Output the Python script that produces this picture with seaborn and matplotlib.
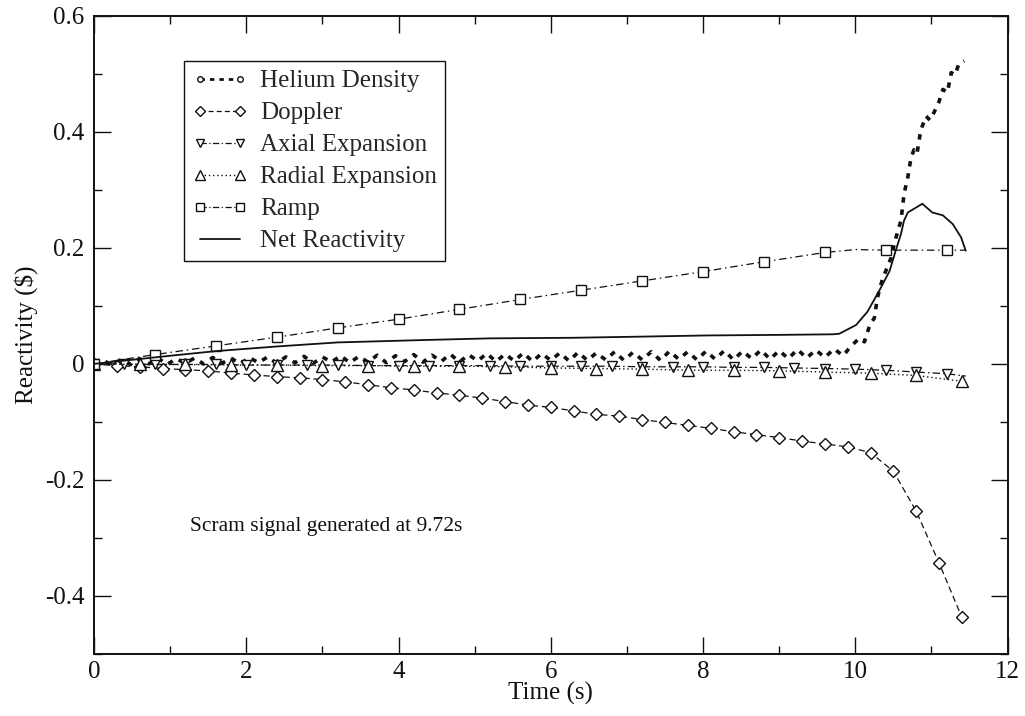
import numpy as np
import matplotlib
matplotlib.use("Agg")
import matplotlib.pyplot as plt
from matplotlib.lines import Line2D
from matplotlib.ticker import MultipleLocator, FuncFormatter
import seaborn as sns

# ---- data: reactivity components ($) versus time (s) ----
# Helium density: oscillating signal sampled every 0.12 s up to 9.84 s, then the excursion
helium_t_base = np.round(np.arange(0.0, 9.841, 0.12), 2)
helium_v_base = [
    0.000, 0.006, -0.002, 0.008, -0.001, 0.009, 0.000, 0.010, -0.001, 0.009,
    0.001, 0.010, 0.000, 0.011, 0.001, 0.010, 0.000, 0.011, 0.002, 0.012,
    0.001, 0.012, 0.002, 0.013, 0.001, 0.012, 0.003, 0.014, 0.002, 0.013,
    0.003, 0.015, 0.002, 0.014, 0.004, 0.016, 0.003, 0.015, 0.004, 0.017,
    0.003, 0.016, 0.005, 0.018, 0.004, 0.017, 0.005, 0.019, 0.004, 0.018,
    0.006, 0.019, 0.005, 0.020, 0.006, 0.019, 0.007, 0.021, 0.006, 0.020,
    0.007, 0.021, 0.006, 0.022, 0.008, 0.021, 0.007, 0.022, 0.008, 0.023,
    0.007, 0.022, 0.009, 0.024, 0.008, 0.023, 0.009, 0.025, 0.010, 0.024,
    0.011, 0.026, 0.014,
]
helium_t_rise = [9.94, 10.05, 10.12, 10.19, 10.25, 10.29, 10.36, 10.42, 10.47, 10.51,
                 10.56, 10.60, 10.62, 10.64, 10.69, 10.73, 10.77, 10.81, 10.86, 10.93,
                 10.98, 11.04, 11.10, 11.15, 11.21, 11.26, 11.31, 11.36, 11.43]
helium_v_rise = [0.030, 0.044, 0.038, 0.067, 0.079, 0.114, 0.148, 0.166, 0.183, 0.206,
                 0.230, 0.247, 0.270, 0.293, 0.322, 0.354, 0.369, 0.362, 0.403, 0.427,
                 0.420, 0.435, 0.452, 0.473, 0.468, 0.502, 0.498, 0.517, 0.522]

# Doppler: sampled every 0.3 s
doppler_t = np.round(np.arange(0.0, 11.41, 0.3), 2)
doppler_v = [0.000, -0.003, -0.005, -0.008, -0.010, -0.012, -0.016, -0.019, -0.022, -0.024,
             -0.027, -0.031, -0.036, -0.041, -0.045, -0.050, -0.054, -0.059, -0.065, -0.071,
             -0.075, -0.081, -0.087, -0.090, -0.096, -0.101, -0.106, -0.111, -0.117, -0.122,
             -0.127, -0.133, -0.138, -0.143, -0.153, -0.185, -0.254, -0.343, -0.437]

# Axial expansion: sampled every 0.4 s, plus end point
axial_t = list(np.round(np.arange(0.0, 11.21, 0.4), 2)) + [11.45]
axial_v = [0.000, 0.000, -0.001, -0.001, -0.001, -0.002, -0.002, -0.002, -0.002, -0.003,
           -0.003, -0.003, -0.003, -0.003, -0.004, -0.004, -0.004, -0.004, -0.005, -0.005,
           -0.005, -0.006, -0.006, -0.007, -0.008, -0.009, -0.011, -0.014, -0.017, -0.021]

# Radial expansion: sampled every 0.6 s
radial_t = np.round(np.arange(0.0, 11.41, 0.6), 2)
radial_v = [0.000, -0.001, -0.001, -0.002, -0.002, -0.003, -0.003, -0.004, -0.004, -0.005,
            -0.007, -0.008, -0.009, -0.011, -0.011, -0.012, -0.014, -0.016, -0.020, -0.030]

# Ramp insertion
ramp_t = [0.0, 0.8, 1.6, 2.4, 3.2, 4.0, 4.8, 5.6, 6.4, 7.2, 8.0, 8.8, 9.6,
          10.0, 10.4, 11.2, 11.45]
ramp_v = [0.000, 0.016, 0.031, 0.046, 0.062, 0.077, 0.094, 0.111, 0.127, 0.143,
          0.159, 0.176, 0.192, 0.197, 0.196, 0.196, 0.196]
ramp_marks = list(range(13)) + [14, 15]

# Net reactivity
net_t = [0.0, 0.5, 1.0, 1.6, 2.4, 3.2, 4.3, 5.2, 6.3, 7.2, 8.05, 9.0, 9.71, 9.79,
         10.01, 10.16, 10.31, 10.45, 10.53, 10.60, 10.64, 10.69, 10.78, 10.88,
         10.95, 11.01, 11.15, 11.28, 11.39, 11.45]
net_v = [0.000, 0.007, 0.014, 0.022, 0.030, 0.037, 0.041, 0.044, 0.045, 0.047,
         0.049, 0.050, 0.051, 0.052, 0.067, 0.090, 0.125, 0.160, 0.195, 0.224,
         0.247, 0.261, 0.268, 0.276, 0.268, 0.261, 0.256, 0.241, 0.218, 0.195]

labels = ["Helium Density", "Doppler", "Axial Expansion", "Radial Expansion",
          "Ramp", "Net Reactivity"]

# ---- styling ----
sns.set_style("ticks")
plt.rcParams["font.family"] = ["Liberation Serif", "DejaVu Serif"]
plt.rcParams["axes.unicode_minus"] = False
plt.rcParams["mathtext.default"] = "regular"

fig = plt.figure(figsize=(10.25, 7.16), dpi=100)
ax = fig.add_axes([0.0917, 0.0866, 0.8913, 0.8914])

ink = "#111111"
mk = dict(markerfacecolor="white", markeredgecolor=ink, markeredgewidth=1.0)

helium_t = list(helium_t_base) + helium_t_rise
helium_v = helium_v_base + helium_v_rise
sns.lineplot(x=helium_t, y=helium_v, ax=ax, sort=False, estimator=None,
             color=ink, linewidth=2.6, linestyle=(0, (1.5, 1.9)))

sns.lineplot(x=doppler_t, y=doppler_v, ax=ax, sort=False, estimator=None,
             color=ink, linewidth=0.9, linestyle=(0, (5, 3)),
             marker="D", markersize=6.5, **mk)

sns.lineplot(x=axial_t, y=axial_v, ax=ax, sort=False, estimator=None,
             color=ink, linewidth=0.9, linestyle=(0, (6, 2.5, 1.2, 2.5)),
             marker="v", markersize=6.5, markevery=list(range(len(axial_t) - 1)), **mk)

sns.lineplot(x=radial_t, y=radial_v, ax=ax, sort=False, estimator=None,
             color=ink, linewidth=1.0, linestyle=(0, (1, 2)),
             marker="^", markersize=8.5, **mk)

sns.lineplot(x=ramp_t, y=ramp_v, ax=ax, sort=False, estimator=None,
             color=ink, linewidth=0.9, linestyle=(0, (6, 3, 1.2, 3)),
             marker="s", markersize=7.5, markevery=ramp_marks, **mk)

sns.lineplot(x=net_t, y=net_v, ax=ax, sort=False, estimator=None,
             color=ink, linewidth=1.3, linestyle="-")

# ---- axes ----
ax.set_xlim(0, 12)
ax.set_ylim(-0.5, 0.6)
ax.xaxis.set_major_locator(MultipleLocator(2))
ax.xaxis.set_minor_locator(MultipleLocator(1))
ax.yaxis.set_major_locator(MultipleLocator(0.2))
ax.yaxis.set_minor_locator(MultipleLocator(0.1))
fmt = FuncFormatter(lambda v, p: f"{v:g}" if abs(v) > 1e-9 else "0")
ax.xaxis.set_major_formatter(fmt)
ax.yaxis.set_major_formatter(fmt)
ax.tick_params(which="both", direction="in", top=True, right=True, colors=ink,
               labelsize=18, width=1.0)
ax.tick_params(which="major", length=12)
ax.tick_params(which="minor", length=6)
ax.tick_params(axis="x", pad=5)
ax.tick_params(axis="y", pad=7)
for s in ax.spines.values():
    s.set_color(ink)
    s.set_linewidth(1.4)

ax.set_xlabel("Time (s)", fontsize=18, color=ink, labelpad=-1)
ax.set_ylabel(r"Reactivity (\$)", fontsize=18, color=ink, labelpad=5)

ax.text(1.26, -0.28, "Scram signal generated at 9.72s", fontsize=15.5, color=ink,
        va="center", ha="left")

# ---- legend ----
handles = [
    Line2D([], [], color=ink, linewidth=2.0, linestyle=(0, (1.6, 1.8)),
           marker="o", markersize=4, **mk),
    Line2D([], [], color=ink, linewidth=0.9, linestyle=(0, (4, 2.5)),
           marker="D", markersize=5, **mk),
    Line2D([], [], color=ink, linewidth=0.9, linestyle=(0, (5, 2, 1, 2)),
           marker="v", markersize=5.5, **mk),
    Line2D([], [], color=ink, linewidth=1.0, linestyle=(0, (1, 2)),
           marker="^", markersize=6.5, **mk),
    Line2D([], [], color=ink, linewidth=0.9, linestyle=(0, (5, 2, 1, 2)),
           marker="s", markersize=6, **mk),
    Line2D([], [], color=ink, linewidth=1.3, linestyle="-"),
]
leg = ax.legend(handles, labels, loc="upper left", bbox_to_anchor=(0.098, 0.929),
                borderaxespad=0, numpoints=2, fontsize=18, frameon=True, fancybox=False,
                handlelength=2.2, handletextpad=0.5, labelspacing=0.38,
                borderpad=0.35)
leg.get_frame().set_edgecolor(ink)
leg.get_frame().set_linewidth(1.0)
leg.get_frame().set_facecolor("white")
leg.get_frame().set_alpha(1.0)

fig.savefig("out.png", dpi=100, facecolor="white")
